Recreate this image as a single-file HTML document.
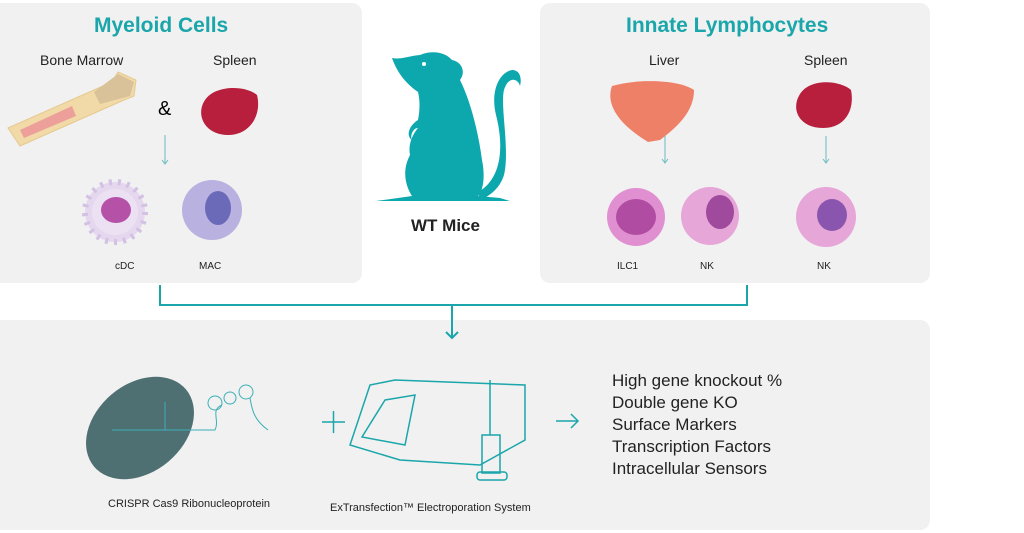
<!DOCTYPE html>
<html><head><style>
body{margin:0;width:1024px;height:533px;background:#fff;position:relative;overflow:hidden;font-family:"Liberation Sans",sans-serif;}
.p{position:absolute;background:#f1f1f1;border-radius:10px;}
.t{position:absolute;white-space:nowrap;}
.h{color:#1aa6aa;font-weight:bold;font-size:21px;}
.s{font-size:14px;color:#222;}
.c{font-size:10px;color:#222;}
</style></head><body>
<div class="p" style="left:-10px;top:3px;width:372px;height:280px"></div>
<div class="p" style="left:540px;top:3px;width:390px;height:280px"></div>
<div class="p" style="left:-10px;top:320px;width:940px;height:210px"></div>

<div class="t h" style="left:94px;top:14px">Myeloid Cells</div>
<div class="t s" style="left:40px;top:52px">Bone Marrow</div>
<div class="t s" style="left:213px;top:52px">Spleen</div>
<div class="t h" style="left:626px;top:14px">Innate Lymphocytes</div>
<div class="t s" style="left:649px;top:52px">Liver</div>
<div class="t s" style="left:804px;top:52px">Spleen</div>
<div class="t" style="left:158px;top:98px;font-size:20px">&amp;</div>
<div class="t c" style="left:115px;top:261px">cDC</div>
<div class="t c" style="left:199px;top:261px">MAC</div>
<div class="t c" style="left:617px;top:261px">ILC1</div>
<div class="t c" style="left:700px;top:261px">NK</div>
<div class="t c" style="left:817px;top:261px">NK</div>
<div class="t" style="left:411px;top:216px;font-size:17px;font-weight:bold;color:#222">WT Mice</div>
<div class="t c" style="left:108px;top:498px;font-size:11px">CRISPR Cas9 Ribonucleoprotein</div>
<div class="t c" style="left:330px;top:502px;font-size:11px">ExTransfection™ Electroporation System</div>
<div class="t" style="left:612px;top:370px;font-size:17px;line-height:22px;color:#222">High gene knockout %<br>Double gene KO<br>Surface Markers<br>Transcription Factors<br>Intracellular Sensors</div>

<svg width="1024" height="533" style="position:absolute;left:0;top:0">
<!-- bone -->
<path d="M8,128 L112,82 L118,72 L136,80 L134,96 L124,100 L20,146 Z" fill="#f1d9a8" stroke="#e5c98e"/>
<path d="M20,130 L72,106 L76,116 L24,138 Z" fill="#eda09a"/>
<path d="M94,92 L118,74 L134,82 L130,96 L100,104Z" fill="#d9c199"/>
<!-- spleens -->
<path d="M205,100 C215,85 245,85 257,95 C262,115 250,135 228,135 C205,135 195,115 205,100Z" fill="#b71f3c"/>
<path d="M800,94 C810,78 840,80 851,90 C855,110 845,128 823,128 C800,128 790,110 800,94Z" fill="#b71f3c"/>
<!-- liver -->
<path d="M612,86 C640,78 680,80 694,90 C694,110 680,125 660,140 L648,142 C620,125 605,105 612,86Z" fill="#ee8067"/>
<!-- small arrows -->
<g stroke="#6cbcc0" stroke-width="1" fill="none">
<line x1="165" y1="135" x2="165" y2="163"/><path d="M162,160 L165,164 L168,160"/>
<line x1="665" y1="136" x2="665" y2="162"/><path d="M662,159 L665,163 L668,159"/>
<line x1="826" y1="136" x2="826" y2="162"/><path d="M823,159 L826,163 L829,159"/>
</g>
<!-- cells -->
<circle cx="115" cy="212" r="30" fill="#e5d8ee" stroke="#d3c1e4" stroke-width="6" stroke-dasharray="3 6"/>
<circle cx="115" cy="212" r="23" fill="#ece0f3"/>
<ellipse cx="116" cy="210" rx="15" ry="13" fill="#b552a8"/>
<circle cx="212" cy="210" r="30" fill="#b9b2e0"/>
<ellipse cx="218" cy="208" rx="13" ry="17" fill="#6a6ab8"/>
<circle cx="636" cy="217" r="29" fill="#e08fd0"/>
<ellipse cx="636" cy="217" rx="20" ry="18" fill="#b14ca3"/>
<circle cx="710" cy="216" r="29" fill="#e6a6d8"/>
<ellipse cx="720" cy="212" rx="14" ry="17" fill="#a04a9e"/>
<circle cx="826" cy="217" r="30" fill="#e6a6d8"/>
<ellipse cx="832" cy="215" rx="15" ry="16" fill="#8a55ae"/>
<!-- mouse -->
<g fill="#0da8ae">
<path d="M392,58 C400,60 408,56 420,55 C432,50 445,52 452,60 C462,62 466,72 460,80 C470,100 478,130 482,160 C486,180 482,192 478,196 L500,198 L510,201 L376,201 L398,198 L412,196 C405,185 402,170 410,155 C408,145 412,135 418,128 C412,128 410,138 412,140 C405,135 410,125 418,120 C420,110 420,100 418,92 C408,85 398,75 392,58Z"/>
<path d="M478,192 C500,180 505,150 496,115 C490,90 500,72 512,70 C520,70 522,78 520,86 C518,78 508,76 504,90 C500,105 510,150 504,175 C500,188 490,196 480,200Z"/>
<circle cx="424" cy="64" r="2" fill="#fff"/>
</g>
<!-- connector -->
<g stroke="#1aa6aa" stroke-width="2" fill="none">
<path d="M160,285 V305 H747 V285"/>
<line x1="452" y1="305" x2="452" y2="338"/><path d="M446,332 L452,338 L458,332"/>
</g>
<!-- cas9 -->
<ellipse cx="140" cy="428" rx="60" ry="44" transform="rotate(-40 140 428)" fill="#4f7072"/>
<g stroke="#3bb0b6" fill="none" stroke-width="1">
<path d="M112,430 H165 V402 M165,430 H215 C220,420 210,410 222,405"/>
<circle cx="215" cy="403" r="7"/><circle cx="230" cy="398" r="6"/><circle cx="246" cy="392" r="7"/>
<path d="M250,398 C252,410 254,420 268,430"/>
</g>
<g stroke="#1aa6aa" stroke-width="1.5" fill="none">
<line x1="322" y1="422" x2="345" y2="422"/><line x1="333.5" y1="411" x2="333.5" y2="433"/>
<line x1="556" y1="421" x2="578" y2="421"/><path d="M571,414 L578,421 L571,428"/>
<path d="M370,385 L395,380 L525,385 L525,440 L480,465 L400,460 L350,445Z"/>
<path d="M385,400 L415,395 L405,445 L362,437Z"/>
<rect x="482" y="435" width="18" height="38"/><rect x="477" y="472" width="30" height="8" rx="3"/>
<line x1="490" y1="380" x2="490" y2="435"/>
</g>
</svg>
</body></html>
